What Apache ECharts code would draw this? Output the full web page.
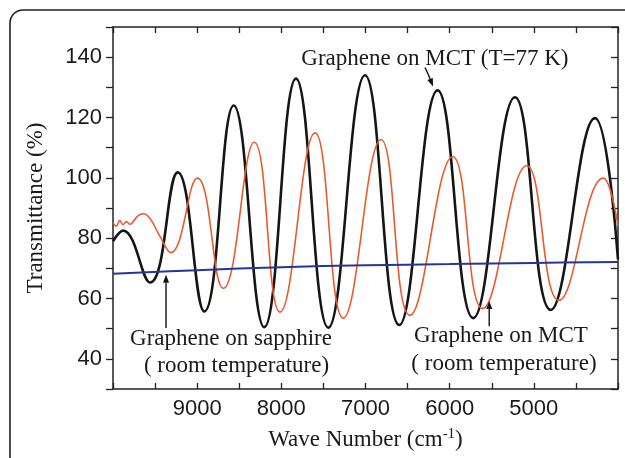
<!DOCTYPE html>
<html><head><meta charset="utf-8">
<script src="https://cdn.jsdelivr.net/npm/echarts@6/dist/echarts.min.js"></script>
<style>html,body{margin:0;padding:0;background:#fff}#c{width:625px;height:458px}</style>
</head><body><div id="c"></div>
<script>
// Graphene on MCT (T=77 K) - black
const mct77Wn = [10000, 9880, 9560, 9231, 8915, 8566, 8203, 7826, 7442, 7006, 6599, 6143, 5720, 5224, 4800, 4274, 4000];
const mct77T  = [79, 82.5, 65.3, 101.8, 55.7, 124, 50.5, 132.9, 50.3, 134, 51.2, 129, 53.5, 126.7, 56.2, 119.8, 73];
// Graphene on MCT (room temperature) - red
const mctRtWn = [10000, 9960, 9920, 9880, 9840, 9800, 9760, 9700, 9640, 9560, 9450, 9315, 8998, 8690, 8321, 8016, 7600, 7264, 6816, 6472, 5964, 5608, 5085, 4702, 4175, 4000];
const mctRtT  = [85, 84, 85.8, 84.5, 85.5, 84.6, 85.5, 87.5, 88.1, 86.5, 81, 75.2, 99.9, 63.4, 111.8, 55.5, 114.9, 53.5, 112.7, 54.4, 107, 56.7, 104, 59.4, 99.9, 84];
// Graphene on sapphire (room temperature) - blue
const sapWn = [10000, 9000, 8000, 7000, 6000, 5000, 4000];
const sapT  = [68.2, 69.4, 70.4, 71.0, 71.4, 71.8, 72.1];
// tick labels
const xTickLabels = [9000, 8000, 7000, 6000, 5000];
const yTickLabels = [40, 60, 80, 100, 120, 140];

const serif = '"Liberation Serif","Times New Roman",serif';
const sans = '"Liberation Sans",Arial,sans-serif';
const ink = '#1a1a1a';
function pairs(a, b) { return a.map((x, i) => [x, b[i]]); }

const chart = echarts.init(document.getElementById('c'), null, {renderer: 'canvas'});
const axisLine = {show: true, lineStyle: {color: '#222', width: 1.5}};
const xBase = {type: 'value', min: 4000, max: 10000, interval: 500, inverse: true, axisLine, splitLine: {show: false}};
const yBase = {type: 'value', min: 30, max: 150, interval: 10, axisLine, splitLine: {show: false}};

chart.setOption({
  animation: false,
  backgroundColor: '#fff',
  grid: {left: 113, right: 7, top: 27, bottom: 59},
  xAxis: [
    Object.assign({}, xBase, {
      position: 'bottom',
      axisTick: {inside: true, length: 6, lineStyle: {color: '#222', width: 1.3}},
      axisLabel: {fontFamily: sans, fontSize: 22, color: ink, margin: 9,
        formatter: v => xTickLabels.includes(v) ? String(v) : ''},
      name: 'Wave Number (cm{sup|-1})', nameLocation: 'middle', nameGap: 38,
      nameTextStyle: {fontFamily: serif, fontSize: 23, color: ink, lineHeight: 26,
        rich: {sup: {fontFamily: serif, fontSize: 15, color: ink, verticalAlign: 'top', lineHeight: 15}}}
    }),
    Object.assign({}, xBase, {
      position: 'top',
      axisTick: {inside: true, length: 6, lineStyle: {color: '#222', width: 1.3}},
      axisLabel: {show: false}
    })
  ],
  yAxis: [
    Object.assign({}, yBase, {
      position: 'left',
      axisTick: {inside: false, length: 7, lineStyle: {color: '#222', width: 1.3}},
      axisLabel: {fontFamily: sans, fontSize: 22, color: ink, margin: 11,
        formatter: v => yTickLabels.includes(v) ? String(v) : ''},
      name: 'Transmittance (%)', nameLocation: 'middle', nameGap: 66,
      nameTextStyle: {fontFamily: serif, fontSize: 23, color: ink}
    }),
    Object.assign({}, yBase, {
      position: 'right',
      axisTick: {inside: true, length: 7, lineStyle: {color: '#222', width: 1.3}},
      axisLabel: {show: false}
    })
  ],
  series: [
    {type: 'line', name: 'MCT 77K', data: pairs(mct77Wn, mct77T), showSymbol: false, smooth: 0.45,
      lineStyle: {color: '#151515', width: 2.6}, z: 2},
    {type: 'line', name: 'MCT RT', data: pairs(mctRtWn, mctRtT), showSymbol: false, smooth: 0.45,
      lineStyle: {color: '#ea5a2e', width: 1.6}, z: 3},
    {type: 'line', name: 'Sapphire', data: pairs(sapWn, sapT), showSymbol: false, smooth: 0.4,
      lineStyle: {color: '#22379a', width: 2}, z: 4}
  ]
});

// annotations anchored in data coordinates
const px = (x, y) => chart.convertToPixel({gridIndex: 0}, [x, y]);
const texts = [
  {t: 'Graphene on MCT (T=77 K)', at: [6175, 139.4]},
  {t: 'Graphene on sapphire', at: [8598, 46.7]},
  {t: '( room temperature)', at: [8533, 37.5]},
  {t: 'Graphene on MCT', at: [5391, 47.6]},
  {t: '( room temperature)', at: [5355, 38.3]}
];
const arrows = [
  {from: [6293, 136.6], mid: [6250, 134.0], to: [6198, 130.3]},
  {from: [9370, 50.2], to: [9370, 67.9]},
  {from: [5530, 50.8], to: [5530, 59.2]}
];
const g = [{type: 'rect', shape: {x: 10, y: 10, width: 640, height: 470, r: 13},
  style: {fill: 'none', stroke: '#222', lineWidth: 1.6}, silent: true}];
texts.forEach(o => {
  const p = px(o.at[0], o.at[1]);
  g.push({type: 'text', x: p[0], y: p[1], style: {text: o.t, font: '23px ' + serif, fill: ink,
    textAlign: 'center', textVerticalAlign: 'middle'}, z: 10});
});
arrows.forEach(a => {
  const pts = [px(a.from[0], a.from[1])];
  if (a.mid) pts.push(px(a.mid[0], a.mid[1]));
  const tip = px(a.to[0], a.to[1]);
  const prev = pts[pts.length - 1];
  const dx = tip[0] - prev[0], dy = tip[1] - prev[1];
  const L = Math.hypot(dx, dy), ux = dx / L, uy = dy / L;
  const hl = 8, hw = 3;
  const base = [tip[0] - ux * hl, tip[1] - uy * hl];
  pts.push(base);
  g.push({type: 'polyline', shape: {points: pts}, style: {stroke: '#111', lineWidth: 1.4, fill: null}, z: 10});
  g.push({type: 'polygon', shape: {points: [tip, [base[0] - uy * hw, base[1] + ux * hw], [base[0] + uy * hw, base[1] - ux * hw]]},
    style: {fill: '#111'}, z: 10});
});
chart.setOption({graphic: g});
</script>
</body></html>
